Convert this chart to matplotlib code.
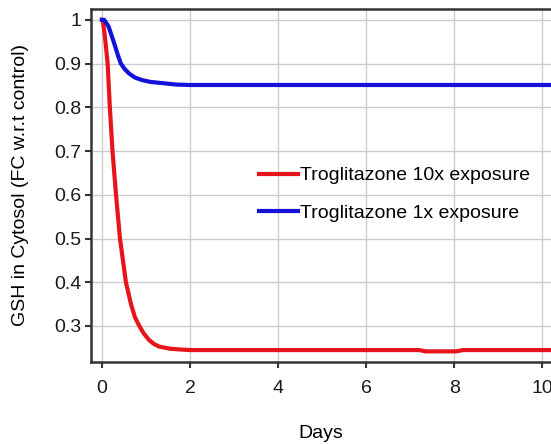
import numpy as np
import matplotlib.pyplot as plt

plt.rcParams['font.family'] = ['Liberation Sans', 'DejaVu Sans']

dpi = 100

days_10x = [0, 0.02, 0.07, 0.13, 0.18, 0.24, 0.32, 0.41, 0.545, 0.66, 0.75, 0.85, 0.95,
            1.07, 1.18, 1.3, 1.55, 1.82, 2.0, 4, 7.2, 7.35, 8.05, 8.2, 10.3]
gsh_10x = [1, 1, 0.96, 0.9, 0.8, 0.7, 0.6, 0.5, 0.4, 0.35, 0.32, 0.3, 0.283,
           0.268, 0.259, 0.253, 0.248, 0.246, 0.245, 0.245, 0.245, 0.242, 0.242, 0.245, 0.245]

days_1x = [0, 0.05, 0.15, 0.28, 0.36, 0.43, 0.52, 0.62, 0.75, 0.92, 1.1, 1.3, 1.68, 2.0, 10.3]
gsh_1x = [1, 1, 0.985, 0.946, 0.92, 0.9, 0.887, 0.877, 0.868, 0.862, 0.858, 0.856, 0.852,
          0.851, 0.851]

xticks = [0, 2, 4, 6, 8, 10]
yticks = [0.3, 0.4, 0.5, 0.6, 0.7, 0.8, 0.9, 1.0]
yticklabels = ['0.3', '0.4', '0.5', '0.6', '0.7', '0.8', '0.9', '1']

fig = plt.figure(figsize=(551 / dpi, 444 / dpi), dpi=dpi)
ax = fig.add_axes([0.165, 0.185, 0.835, 0.795])

ax.plot(days_10x, gsh_10x, color='#e8141b', lw=3, label='Troglitazone 10x exposure')
ax.plot(days_1x, gsh_1x, color='#1212d8', lw=3, label='Troglitazone 1x exposure')

ax.set_xlim(-0.25, 10.2)
ax.set_ylim(0.218, 1.025)
ax.set_xticks(xticks)
ax.set_yticks(yticks)
ax.set_yticklabels(yticklabels)
ax.grid(True, color='#cccccc', lw=1)
ax.set_axisbelow(True)

for s in ['left', 'bottom', 'top']:
    ax.spines[s].set_linewidth(1.8)
    ax.spines[s].set_color('#333333')
ax.spines['right'].set_visible(False)
ax.tick_params(labelsize=14, width=1.5, length=4, color='#333333', labelcolor='#1a1a1a')
ax.tick_params(axis='x', pad=9)
ax.tick_params(axis='y', pad=3)

ax.set_xlabel('Days', fontsize=14, labelpad=20)
ax.set_ylabel('GSH in Cytosol (FC w.r.t control)', fontsize=14, labelpad=18)

ax.legend(loc='center left', bbox_to_anchor=(0.327, 0.475), frameon=False, fontsize=14,
          handlelength=2.0, handletextpad=0.1, labelspacing=1.0)

plt.savefig('out.png', dpi=dpi)
